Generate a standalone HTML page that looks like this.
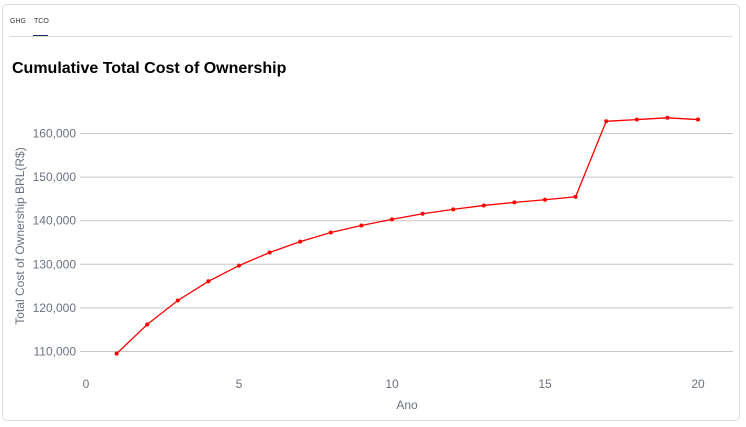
<!DOCTYPE html>
<html><head><meta charset="utf-8"><style>
body{margin:0;width:746px;height:427px;background:#fff;font-family:"Liberation Sans",sans-serif;overflow:hidden}
.card{position:absolute;left:2px;top:4px;width:738px;height:417px;border:1px solid #ddd;border-radius:5px;box-sizing:border-box}
.tab{position:absolute;top:18px;font-size:7px;color:#333}
</style></head><body>
<div class="card"></div>
<div class="tab" style="left:10px">GHG</div>
<div class="tab" style="left:34px">TCO</div>
<div style="position:absolute;left:33px;top:35px;width:15px;height:2px;background:#1a2a6c"></div>
<div style="position:absolute;left:10px;top:36px;width:723px;height:1px;background:#ddd"></div>
<div style="position:absolute;left:12px;top:60px;font-size:16px;font-weight:bold;color:#000">Cumulative Total Cost of Ownership</div>
<svg id="c" width="746" height="427" style="position:absolute;left:0;top:0"></svg>
<script>
const years=[1,2,3,4,5,6,7,8,9,10,11,12,13,14,15,16,17,18,19,20];
const costs=[109500,116200,121700,126100,129700,132700,135200,137300,138900,140300,141600,142600,143500,144200,144800,145500,162800,163200,163600,163200];
const yTicks=[110000,120000,130000,140000,150000,160000];
const xTicks=[0,5,10,15,20];
const X=v=>86+v*30.6, Y=v=>133.5-(v-160000)*0.00436;
const s=document.getElementById('c'),ns='http://www.w3.org/2000/svg';
function mk(t,a,txt){const e=document.createElementNS(ns,t);for(const k in a)e.setAttribute(k,a[k]);if(txt!=null)e.textContent=txt;s.appendChild(e);return e;}
yTicks.forEach(v=>{
 let l=mk('line',{x1:80,x2:733,y1:Y(v),y2:Y(v),stroke:'#c8c8c8','stroke-width':1});
 
 
 let t=mk('text',{x:76,y:Y(v)+4,'text-anchor':'end','font-size':12,fill:'#6b7280','font-family':'Liberation Sans'},v.toLocaleString('en-US'));
 
 
});
xTicks.forEach(v=>{
 let t=mk('text',{x:X(v),y:388,'text-anchor':'middle','font-size':12,fill:'#6b7280','font-family':'Liberation Sans'},v);
 
 
});
let xt=mk('text',{x:407,y:409,'text-anchor':'middle','font-size':12,fill:'#6b7280','font-family':'Liberation Sans'},'Ano');


let yt=mk('text',{x:0,y:0,transform:'translate(24,236) rotate(-90)','text-anchor':'middle','font-size':12,fill:'#6b7280','font-family':'Liberation Sans'},'Total Cost of Ownership BRL(R$)');


let p=mk('polyline',{points:years.map((y,i)=>X(y)+','+Y(costs[i])).join(' '),fill:'none',stroke:'#ff0000','stroke-width':1.3});


years.forEach((y,i)=>{
 let c=mk('circle',{cx:X(y),cy:Y(costs[i]),r:2,fill:'#ff0000'});
 
 
});
</script>
</body></html>
